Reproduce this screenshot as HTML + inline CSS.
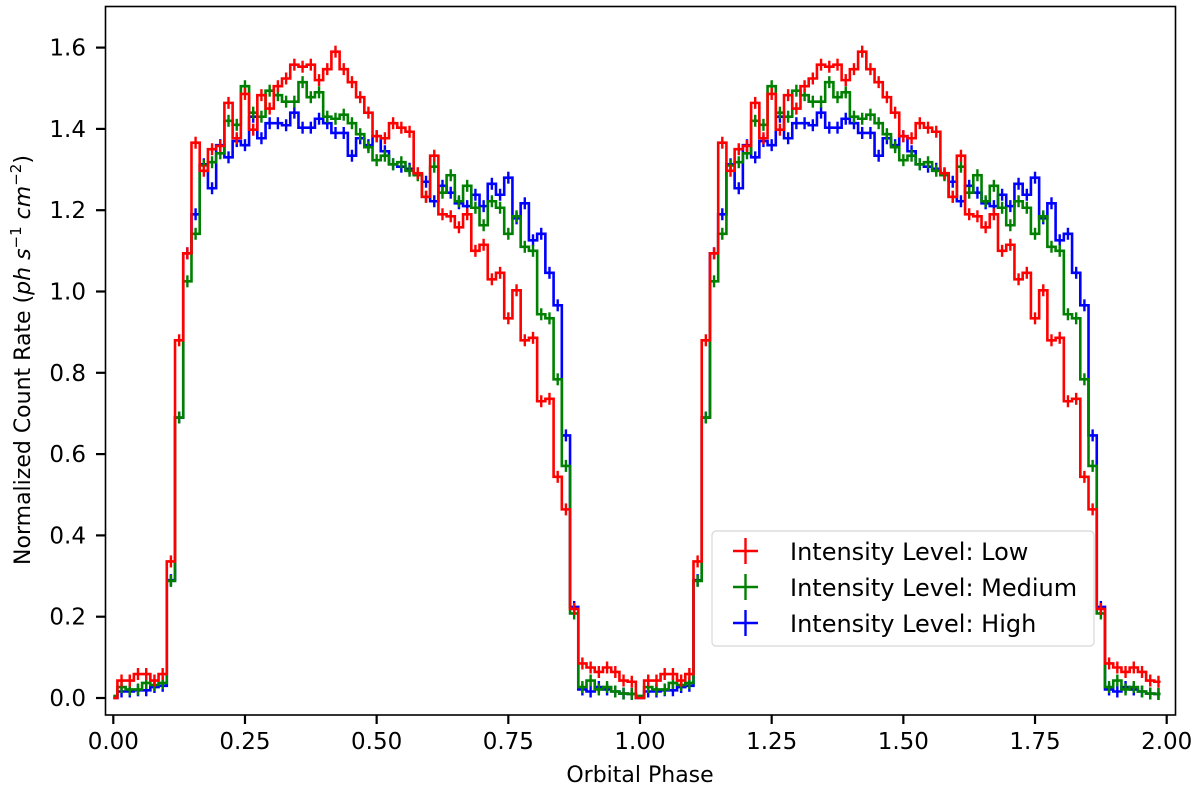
<!DOCTYPE html>
<html><head><meta charset="utf-8"><style>
body{margin:0;background:#fff;}
svg{display:block;font-family:"DejaVu Sans","Liberation Sans",sans-serif;}
</style></head><body>
<svg id="chart" width="1200" height="797" viewBox="0 0 1200 797" xmlns="http://www.w3.org/2000/svg">
<rect x="0" y="0" width="1200" height="797" fill="#fff"/>
<g id="series"></g>
<g id="axes"></g>
</svg>
<script>
const low = [0,0.043,0.043,0.059,0.059,0.043,0.059,0.336,0.88,1.094,1.366,1.297,1.35,1.358,1.464,1.377,1.486,1.398,1.483,1.45,1.505,1.524,1.558,1.553,1.558,1.52,1.547,1.59,1.547,1.515,1.478,1.44,1.382,1.377,1.414,1.403,1.393,1.291,1.233,1.334,1.19,1.185,1.158,1.19,1.10,1.115,1.03,1.046,0.934,1.003,0.88,0.886,0.73,0.736,0.544,0.464,0.219,0.085,0.075,0.064,0.075,0.064,0.043,0.04];
const medium = [0.005,0.027,0.021,0.021,0.037,0.032,0.037,0.288,0.69,1.025,1.142,1.31,1.318,1.34,1.42,1.41,1.505,1.44,1.43,1.494,1.483,1.467,1.467,1.515,1.478,1.49,1.43,1.425,1.435,1.414,1.387,1.355,1.323,1.334,1.313,1.318,1.297,1.286,1.233,1.307,1.243,1.286,1.222,1.26,1.206,1.163,1.222,1.206,1.142,1.185,1.11,1.10,0.944,0.934,0.784,0.571,0.208,0.027,0.043,0.021,0.027,0.016,0.011,0.01];
const high = [0.0,0.016,0.016,0.019,0.019,0.027,0.03,0.29,0.69,1.094,1.19,1.313,1.254,1.36,1.33,1.37,1.36,1.43,1.377,1.414,1.414,1.409,1.44,1.403,1.403,1.425,1.414,1.39,1.39,1.334,1.377,1.36,1.382,1.345,1.313,1.307,1.302,1.29,1.27,1.222,1.26,1.243,1.217,1.21,1.238,1.21,1.265,1.238,1.28,1.18,1.217,1.126,1.142,1.046,0.966,0.646,0.224,0.021,0.016,0.027,0.021,0.016,0.011,0.01];
const seriesNames = ["Intensity Level: Low","Intensity Level: Medium","Intensity Level: High"];
const xTicks = [0,0.25,0.5,0.75,1.0,1.25,1.5,1.75,2.0];
const xTickLabels = ["0.00","0.25","0.50","0.75","1.00","1.25","1.50","1.75","2.00"];
const yTicks = [0,0.2,0.4,0.6,0.8,1.0,1.2,1.4,1.6];
const yTickLabels = ["0.0","0.2","0.4","0.6","0.8","1.0","1.2","1.4","1.6"];
const nBins = 64, nPeriods = 2;

const NS="http://www.w3.org/2000/svg";
const X = p => 113.3 + p*526.7;
const Y = v => 698 - v*406.5;
const gS=document.getElementById('series');
const gA=document.getElementById('axes');
function mk(tag,attrs,parent){const e=document.createElementNS(NS,tag);for(const k in attrs)e.setAttribute(k,attrs[k]);parent.appendChild(e);return e;}

const allSeries=[low,medium,high];
const colors=["#ff0000","#008000","#0000ff"];
const drawOrder=[2,1,0];
drawOrder.forEach(si=>{
  const vals=allSeries[si];
  const g=mk('g',{},gS);
  
  
  const N=nBins*nPeriods;
  const w=1/nBins;
  let d='';
  for(let k=0;k<N;k++){
    const p=k/nBins, v=vals[k%nBins];
    const x0=X(k===0?p:p-w/2), x1=X(k===N-1?p+w/4:p+w/2);
    d+=(k===0?'M':'L')+x0.toFixed(2)+','+Y(v).toFixed(2)+'L'+x1.toFixed(2)+','+Y(v).toFixed(2);
  }
  const path=mk('path',{d:d,fill:'none',stroke:colors[si],'stroke-width':2.6,'stroke-linejoin':'miter'},g);
  
  
  for(let k=1;k<N;k++){
    const p=k/nBins, v=vals[k%nBins];
    if(v<=0.005) continue;
    const eb=mk('line',{x1:X(p),x2:X(p),y1:Y(v)-6,y2:Y(v)+6,stroke:colors[si],'stroke-width':2.4},g);
    
    
  }
});

const frame=mk('rect',{x:105.5,y:6.5,width:1070,height:708.5,fill:'none',stroke:'#000','stroke-width':1.6},gA);


xTicks.forEach((t,i)=>{
  const tk=mk('line',{x1:X(t),x2:X(t),y1:715,y2:724,stroke:'#000','stroke-width':2.2},gA);
  
  
  const tl=mk('text',{x:X(t),y:749,'font-size':23,'text-anchor':'middle',fill:'#000'},gA);
  tl.textContent=xTickLabels[i];
  
  
});
yTicks.forEach((t,i)=>{
  const tk=mk('line',{x1:96,x2:105.5,y1:Y(t),y2:Y(t),stroke:'#000','stroke-width':2.2},gA);
  
  
  const tl=mk('text',{x:86,y:Y(t)+8,'font-size':23,'text-anchor':'end',fill:'#000'},gA);
  tl.textContent=yTickLabels[i];
  
  
});
const xl=mk('text',{x:640,y:782,'font-size':22,'text-anchor':'middle',fill:'#000'},gA);
xl.textContent='Orbital Phase';


const yl=mk('text',{x:0,y:0,'font-size':22,'text-anchor':'middle',fill:'#000',transform:'translate(30,360) rotate(-90)'},gA);
yl.innerHTML='Normalized Count Rate (<tspan font-style="italic">ph</tspan> <tspan font-style="italic">s</tspan><tspan dy="-9" font-size="15">−1</tspan><tspan dy="9" font-style="italic"> cm</tspan><tspan dy="-9" font-size="15">−2</tspan><tspan dy="9">)</tspan>';



const lg=mk('g',{},gA);


mk('rect',{x:712,y:531,width:382,height:115,rx:4,fill:'#fff','fill-opacity':0.85,stroke:'#d8d8d8','stroke-width':1.2},lg);
seriesNames.forEach((n,i)=>{
  const cy=551+i*36;
  const e=mk('g',{},lg);
  
  
  mk('line',{x1:733,x2:758,y1:cy,y2:cy,stroke:colors[i],'stroke-width':2.4},e);
  mk('line',{x1:745.5,x2:745.5,y1:cy-13,y2:cy+13,stroke:colors[i],'stroke-width':2.4},e);
  const t=mk('text',{x:790,y:cy+9,'font-size':24,fill:'#000'},e);
  t.textContent=n;
});
</script>
</body></html>
